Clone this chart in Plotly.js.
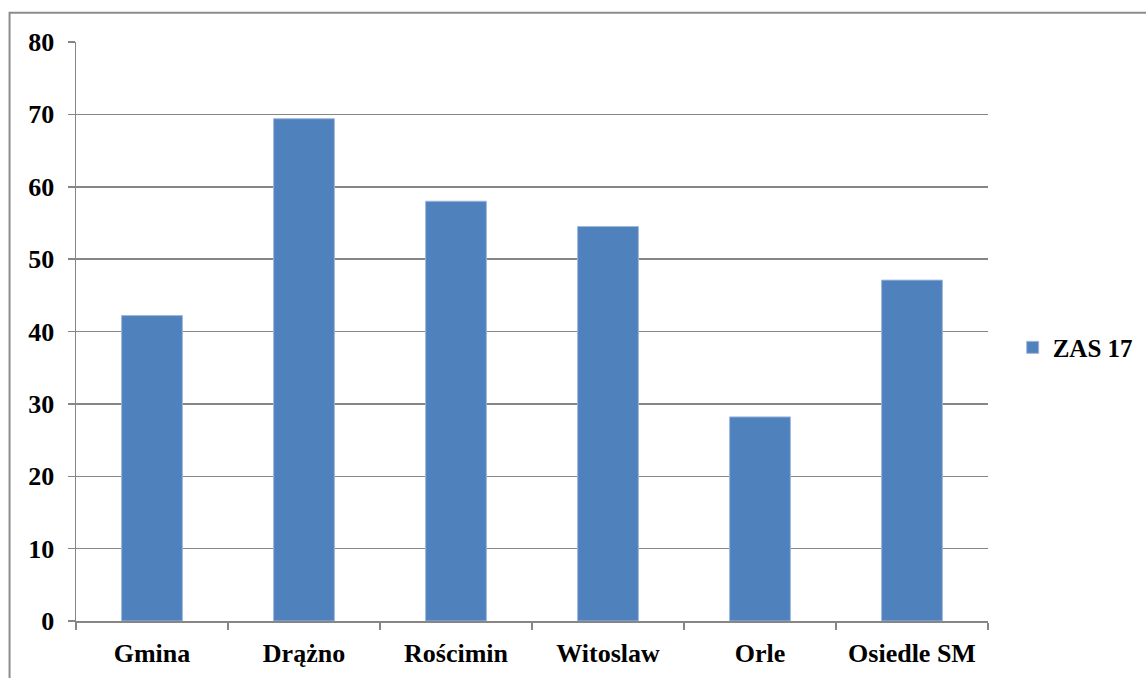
<!DOCTYPE html>
<html>
<head>
<meta charset="utf-8">
<script src="https://cdn.plot.ly/plotly-3.0.1.min.js"></script>
<style>
html,body{margin:0;padding:0;background:#fff;}
#chart{width:1146px;height:678px;}
</style>
</head>
<body>
<div id="chart"></div>
<script>
const categories = ["Gmina", "Drążno", "Rościmin", "Witoslaw", "Orle", "Osiedle SM"];
const seriesName = "ZAS 17";
const values = [42.2, 69.4, 58.0, 54.5, 28.2, 47.1];
const yTicks = [0, 10, 20, 30, 40, 50, 60, 70, 80];

const fontFam = 'Liberation Serif, Times New Roman, serif';
const grid = '#868686';

const trace = {
  type: 'bar',
  x: categories,
  y: values,
  name: seriesName,
  showlegend: true,
  marker: {color: '#4F81BD', line: {color: '#9DB7DA', width: 1}},
  hoverinfo: 'x+y'
};

const L = 75.5, R = 988.3, T = 42.3, B = 621.5, W = 1146, H = 678;
const pw = R - L, ph = B - T;

const layout = {
  width: W, height: H,
  margin: {l: L, r: W - R, t: T, b: H - B, pad: 0, autoexpand: false},
  paper_bgcolor: '#fff',
  plot_bgcolor: '#fff',
  font: {family: fontFam, size: 26, color: '#000', weight: 'bold'},
  bargap: 0.6,
  showlegend: true,
  legend: {
    x: (1013 - L) / pw, xanchor: 'left',
    y: 0.5 + (ph/2 - (348 - T)) / ph, yanchor: 'middle',
    font: {family: fontFam, size: 25, color: '#000', weight: 'bold'},
    bgcolor: 'rgba(0,0,0,0)',
    itemwidth: 30
  },
  xaxis: {
    type: 'category',
    showline: true, linecolor: grid, linewidth: 1.5,
    ticks: 'outside', tickson: 'boundaries', ticklen: 7, tickcolor: grid, tickwidth: 1.5,
    showgrid: false,
    tickfont: {family: fontFam, size: 26, color: '#000', weight: 'bold'},
    ticklabelstandoff: 8,
    fixedrange: true
  },
  yaxis: {
    range: [0, 80],
    tickvals: yTicks,
    ticktext: yTicks.map(String),
    showline: true, linecolor: grid, linewidth: 1.5,
    ticks: 'outside', ticklen: 7, tickcolor: grid, tickwidth: 1.5,
    showgrid: true, gridcolor: grid, gridwidth: 1.5,
    zeroline: false,
    tickfont: {family: fontFam, size: 26, color: '#000', weight: 'bold'},
    ticklabelstandoff: 8,
    fixedrange: true
  },
  shapes: [{
    type: 'rect', xref: 'paper', yref: 'paper', layer: 'above',
    x0: (9 - L) / pw, x1: (W + 20 - L) / pw,
    y0: (B - (H + 20)) / ph, y1: (B - 13) / ph,
    line: {color: '#8C8C8C', width: 2}, fillcolor: 'rgba(0,0,0,0)'
  }]
};

Plotly.newPlot('chart', [trace], layout, {displayModeBar: false, staticPlot: true});
</script>
</body>
</html>
